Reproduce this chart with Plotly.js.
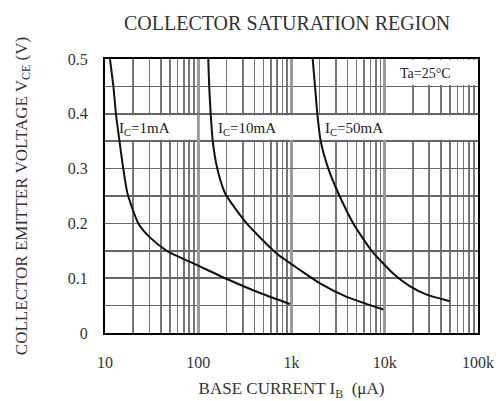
<!DOCTYPE html>
<html>
<head>
<meta charset="utf-8">
<script src="https://cdn.plot.ly/plotly-3.0.1.min.js"></script>
<style>html,body{margin:0;padding:0;background:#fff;}#chart{width:502px;height:401px;}</style>
</head>
<body>
<div id="chart"></div>
<script>
// Base current (uA) and Vce (V)
var ib1mA  = [11.3, 12.3, 13.1, 14.3, 15.7, 17.4, 22.8, 30.5, 46, 100, 200, 460, 964];
var vce1mA = [0.5, 0.45, 0.4, 0.35, 0.3, 0.255, 0.2, 0.174, 0.15, 0.123, 0.099, 0.073, 0.053];
var ib10mA  = [128, 131, 136, 143, 160, 194, 331, 694, 1233, 2023, 3909, 9660];
var vce10mA = [0.5, 0.45, 0.4, 0.35, 0.3, 0.255, 0.2, 0.145, 0.115, 0.0907, 0.066, 0.043];
var ib50mA  = [1687, 1787, 1893, 2057, 2483, 3180, 4600, 7244, 12400, 18700, 28200, 50000];
var vce50mA = [0.5, 0.45, 0.4, 0.35, 0.3, 0.255, 0.2, 0.15, 0.108, 0.085, 0.07, 0.058];

var xTickVals = [10, 100, 1000, 10000, 100000];
var xTickText = ['10', '100', '1k', '10k', '100k'];
var yTickVals = [0, 0.1, 0.2, 0.3, 0.4, 0.5];
var yTickText = ['0', '0.1', '0.2', '0.3', '0.4', '0.5'];
var curveLabels = ['I<sub>C</sub>=1mA', 'I<sub>C</sub>=10mA', 'I<sub>C</sub>=50mA'];
var labelX = [13.5, 155, 2190];
var labelY = 0.372;
var tempLabel = 'Ta=25\u00B0C';
var tempX = 13900;

// minor gridline positions (2..9 within each decade)
var minorX = [];
for (var d = 10; d < 100000; d *= 10) {
  for (var k = 2; k <= 9; k++) minorX.push(d * k);
}

var FONT = '"Liberation Serif", "Times New Roman", serif';
var line = {color: '#111', width: 2, shape: 'spline', smoothing: 0.6};
var traces = [
  {x: ib1mA, y: vce1mA, mode: 'lines', line: line, name: 'IC=1mA', showlegend: false},
  {x: ib10mA, y: vce10mA, mode: 'lines', line: line, name: 'IC=10mA', showlegend: false},
  {x: ib50mA, y: vce50mA, mode: 'lines', line: line, name: 'IC=50mA', showlegend: false}
];

var annotations = curveLabels.map(function (t, i) {
  return {x: Math.log10(labelX[i]), y: labelY, xref: 'x', yref: 'y', text: t, showarrow: false,
          xanchor: 'left', yanchor: 'middle', font: {family: FONT, size: 15, color: '#222'}};
});
annotations.push({x: Math.log10(tempX), y: 0.474, xref: 'x', yref: 'y', text: tempLabel, showarrow: false,
                  xanchor: 'left', yanchor: 'middle', font: {family: FONT, size: 14, color: '#222'}});

var shapes = [
  {type: 'rect', layer: 'between', xref: 'x', yref: 'y', x0: 10.4, x1: 96, y0: 0.3525, y1: 0.3975,
   fillcolor: '#fff', line: {width: 0}},
  {type: 'rect', layer: 'between', xref: 'x', yref: 'y', x0: 104, x1: 98500, y0: 0.3525, y1: 0.3975,
   fillcolor: '#fff', line: {width: 0}},
  {type: 'rect', layer: 'between', xref: 'x', yref: 'y', x0: 11500, x1: 98500, y0: 0.4525, y1: 0.4985,
   fillcolor: '#fff', line: {width: 0}}
];

var layout = {
  width: 502, height: 401,
  margin: {l: 105, r: 24, t: 59, b: 68},
  paper_bgcolor: '#fff', plot_bgcolor: '#fff',
  font: {family: FONT, color: '#333'},
  showlegend: false,
  title: {text: 'COLLECTOR SATURATION REGION', font: {family: FONT, size: 20, color: '#333'},
          xref: 'container', yref: 'container', x: 0.572, y: 0.943, xanchor: 'center', yanchor: 'middle'},
  xaxis: {
    type: 'log', range: [1, 5], tickvals: xTickVals, ticktext: xTickText,
    ticks: '', showline: true, linecolor: '#000', linewidth: 2, mirror: true,
    showgrid: true, gridcolor: '#9a9a9a', gridwidth: 3, zeroline: false,
    tickfont: {family: FONT, size: 16, color: '#333'}, ticklabelstandoff: 14,
    minor: {tickvals: minorX, showgrid: true, gridcolor: '#777', gridwidth: 1.6, ticks: ''},
    title: {text: 'BASE CURRENT I<sub>B</sub>  (\u03BCA)', font: {family: FONT, size: 17, color: '#333'}},
    automargin: false
  },
  yaxis: {
    range: [0, 0.5], tickvals: yTickVals, ticktext: yTickText,
    ticks: '', showline: true, linecolor: '#000', linewidth: 2, mirror: true,
    showgrid: true, gridcolor: '#666', gridwidth: 1.6, zeroline: false,
    tickfont: {family: FONT, size: 16, color: '#333'}, ticklabelstandoff: 12,
    minor: {dtick: 0.05, showgrid: true, gridcolor: '#666', gridwidth: 1.6, ticks: ''},
    title: {text: 'COLLECTOR EMITTER VOLTAGE V<sub>CE</sub> (V)', font: {family: FONT, size: 17, color: '#333'}, standoff: 36},
    automargin: true
  },
  annotations: annotations,
  shapes: shapes
};

Plotly.newPlot('chart', traces, layout, {displayModeBar: false, staticPlot: true});
</script>
</body>
</html>
